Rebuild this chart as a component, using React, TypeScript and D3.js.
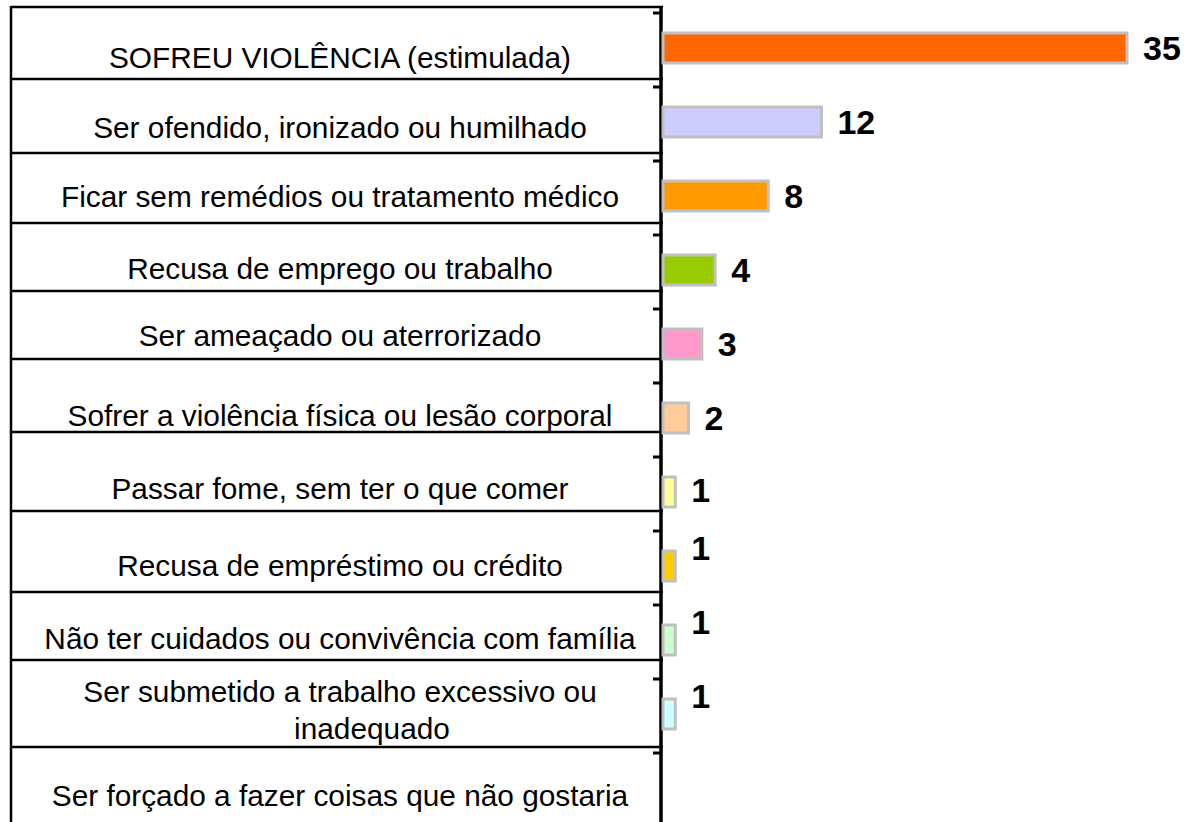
import React, { useRef, useEffect } from 'react';
import * as d3 from 'd3';

// categories (top to bottom) and counts
const categories: string[] = [
  'SOFREU VIOLÊNCIA (estimulada)',
  'Ser ofendido, ironizado ou humilhado',
  'Ficar sem remédios ou tratamento médico',
  'Recusa de emprego ou trabalho',
  'Ser ameaçado ou aterrorizado',
  'Sofrer a violência física ou lesão corporal',
  'Passar fome, sem ter o que comer',
  'Recusa de empréstimo ou crédito',
  'Não ter cuidados ou convivência com família',
  'Ser submetido a trabalho excessivo ou inadequado',
  'Ser forçado a fazer coisas que não gostaria',
];
const values: (number | null)[] = [35, 12, 8, 4, 3, 2, 1, 1, 1, 1, null];
const barColors: string[] = [
  '#FF6600', '#CCCCFF', '#FF9900', '#99CC00', '#FF99CC',
  '#FFCC99', '#FFFF99', '#FFCC00', '#CCFFCC', '#CCFFFF', '#FFFFFF',
];
// how each label is broken into lines in the table cell
const labelLines: string[][] = categories.map(c =>
  c === 'Ser submetido a trabalho excessivo ou inadequado'
    ? ['Ser submetido a trabalho excessivo ou', 'inadequado']
    : [c]
);

// table layout of the label column (irregular, as in the slide)
const rowHeights = [72, 74, 70, 68, 68, 73, 79, 81, 68, 87, 72];
// vertical centre of the first text line, measured from the row top
const textCenters = [50, 48, 43, 45, 44, 56, 56, 54, 46, 31, 48];
// small vertical nudges of the value labels, as placed in the source
const labelNudge = [0, 0, 0, 0, 0, 0, -2, -18, -18, -18, 0];

const WIDTH = 1184;
const HEIGHT = 822;
const FONT = '"Liberation Sans", Arial, sans-serif';

export default function App() {
  const svgRef = useRef<SVGSVGElement | null>(null);

  useEffect(() => {
    const svg = d3.select(svgRef.current)
      .attr('width', WIDTH)
      .attr('height', HEIGHT);

    const axisX = 661;
    const tableLeft = 11;
    const tableTop = 7;
    const textX = 340;

    const x = d3.scaleLinear()
      .domain([0, 35])
      .range([axisX + 1, 1127]);

    const y = d3.scaleBand<string>()
      .domain(categories)
      .range([13, 13 + 74 * categories.length])
      .padding(0);

    // ---- label table ----
    const table = svg.append('g');
    let top = tableTop;
    const rows = rowHeights.map(h => {
      const r = { top, h };
      top += h;
      return r;
    });

    table.selectAll('line.row')
      .data(rows)
      .enter()
      .append('line')
      .attr('class', 'row')
      .attr('x1', tableLeft)
      .attr('x2', axisX + 2)
      .attr('y1', d => d.top)
      .attr('y2', d => d.top)
      .attr('stroke', '#000')
      .attr('stroke-width', 2.5);

    table.append('line')
      .attr('x1', tableLeft)
      .attr('x2', tableLeft)
      .attr('y1', tableTop - 1)
      .attr('y2', HEIGHT)
      .attr('stroke', '#000')
      .attr('stroke-width', 2.5);

    const cells = table.selectAll('text.cell')
      .data(categories)
      .enter()
      .append('text')
      .attr('class', 'cell')
      .attr('text-anchor', 'middle')
      .style('font-family', FONT)
      .style('font-size', '29.8px')
      .attr('fill', '#000');

    cells.each(function (_, i) {
      const lines = labelLines[i];
      const r = rows[i];
      const lh = 37;
      const center = r.top + textCenters[i];
      d3.select(this).selectAll('tspan')
        .data(lines)
        .enter()
        .append('tspan')
        // wrapped second line sits a bit right of centre in the source
        .attr('x', (_, j) => (j === 0 ? textX : textX + 32))
        .attr('y', (_, j) => center + j * lh + 10.5)
        .text(d => d);
    });

    // ---- axis ----
    svg.append('line')
      .attr('x1', axisX)
      .attr('x2', axisX)
      .attr('y1', tableTop - 1)
      .attr('y2', HEIGHT)
      .attr('stroke', '#000')
      .attr('stroke-width', 3.5);

    svg.selectAll('line.tick')
      .data(categories)
      .enter()
      .append('line')
      .attr('class', 'tick')
      .attr('x1', axisX - 8)
      .attr('x2', axisX)
      .attr('y1', d => y(d)!)
      .attr('y2', d => y(d)!)
      .attr('stroke', '#000')
      .attr('stroke-width', 3);

    // ---- bars ----
    const barH = 30;
    const data = categories.map((c, i) => ({ c, v: values[i], i }))
      .filter(d => d.v !== null) as { c: string; v: number; i: number }[];

    svg.selectAll('rect.bar')
      .data(data)
      .enter()
      .append('rect')
      .attr('class', 'bar')
      .attr('x', x(0) + 1)
      .attr('y', d => y(d.c)! + y.bandwidth() / 2 - barH / 2 - 2)
      .attr('width', d => x(d.v) - x(0) - 1)
      .attr('height', barH)
      .attr('fill', d => barColors[d.i])
      .attr('stroke', '#C0C0C0')
      .attr('stroke-width', 3);

    // value labels
    svg.selectAll('text.value')
      .data(data)
      .enter()
      .append('text')
      .attr('class', 'value')
      .attr('x', d => x(d.v) + 16)
      .attr('y', d => y(d.c)! + y.bandwidth() / 2 - 2 + labelNudge[d.i] + 12)
      .style('font-family', FONT)
      .style('font-size', '34px')
      .style('font-weight', 'bold')
      .attr('fill', '#000')
      .text(d => d.v);

    return () => {
      svg.selectAll('*').remove();
    };
  }, []);

  return (
    <svg
      ref={svgRef}
      style={{ position: 'absolute', left: 0, top: 0, background: '#fff' }}
    ></svg>
  );
}
